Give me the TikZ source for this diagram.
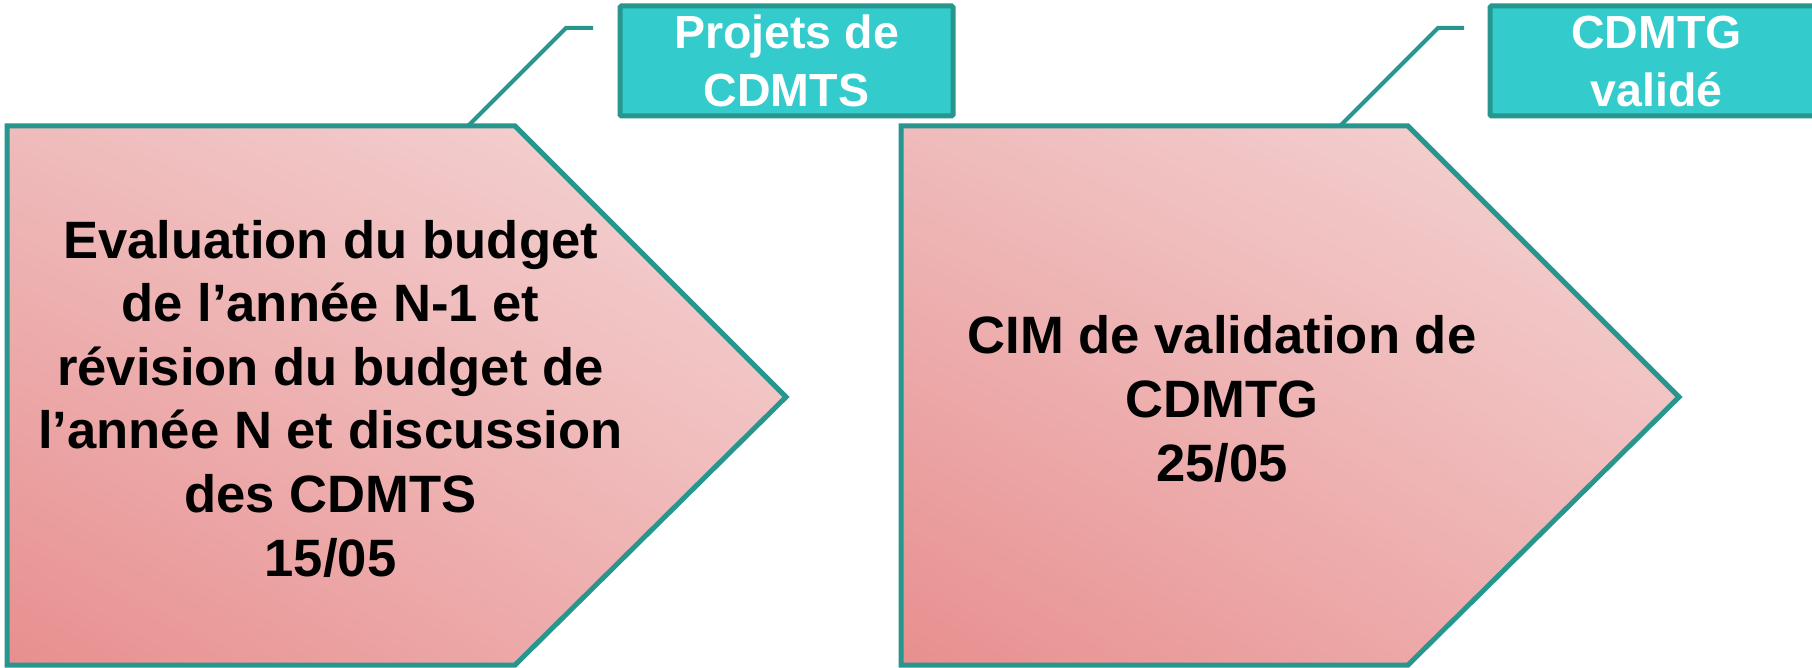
\documentclass[tikz,border=0pt]{standalone}
\usepackage{fontspec}
\setmainfont{Liberation Sans}
\usetikzlibrary{shadings}
\definecolor{tealline}{HTML}{27968F}
\definecolor{boxfill}{HTML}{33CBCB}
\definecolor{pinkLL}{HTML}{E88F8F}
\definecolor{pinkUL}{HTML}{EFBBBB}
\definecolor{pinkLR}{HTML}{EFB3B3}
\definecolor{pinkUR}{HTML}{F5D6D6}
\begin{document}
\begin{tikzpicture}[x=1pt,y=-1pt,
  pent/.style={draw=tealline, line width=5pt, line join=miter,
    lower left=pinkLL, upper left=pinkUL, lower right=pinkLR, upper right=pinkUR},
  leader/.style={draw=tealline, line width=4pt},
  callout/.style={draw=tealline, fill=boxfill, line width=5pt, rounded corners=1.5pt,
    minimum width=333pt, minimum height=110pt, inner sep=0pt, align=center,
    text=white, font=\bfseries\fontsize{46.5}{58}\selectfont},
  maintext/.style={inner sep=0pt, align=center, text=black,
    font=\bfseries\fontsize{52.6}{63.6}\selectfont}]
\useasboundingbox (0,0) rectangle (1812,668);
\clip (0,0) rectangle (1812,668);
\fill[white] (0,0) rectangle (1812,668);

% leader lines (drawn first, under the shapes)
\coordinate (l1a) at (468,126);
\coordinate (l1b) at (566,28);
\coordinate (l1c) at (593,28);
\coordinate (l2a) at (1340,126);
\coordinate (l2b) at (1438,28);
\coordinate (l2c) at (1464,28);
\draw[leader] (l1a) -- (l1b) -- (l1c);
\draw[leader] (l2a) -- (l2b) -- (l2c);

% pentagon arrows
\coordinate (a1nw) at (7,126);
\coordinate (a1ne) at (515,126);
\coordinate (a1tip) at (786,397);
\coordinate (a1se) at (515,665);
\coordinate (a1sw) at (7,665);
\shade[pent] (a1nw) -- (a1ne) -- (a1tip) -- (a1se) -- (a1sw) -- cycle;

\coordinate (a2nw) at (901,126);
\coordinate (a2ne) at (1408,126);
\coordinate (a2tip) at (1679,397);
\coordinate (a2se) at (1408,665);
\coordinate (a2sw) at (901,665);
\shade[pent] (a2nw) -- (a2ne) -- (a2tip) -- (a2se) -- (a2sw) -- cycle;

% texts (base anchor = baseline of the last line)
\node[maintext, anchor=base] (t1) at (330.5,576)
  {Evaluation du budget\\de l’année N-1 et\\révision du budget de\\l’année N et discussion\\des CDMTS\\15/05};
\node[maintext, anchor=base] (t2) at (1222,481)
  {CIM de validation de\\CDMTG\\25/05};

% callout boxes
\node[callout] (c1) at (786.5,61) {Projets de\\CDMTS};
\node[callout] (c2) at (1656.5,61) {CDMTG\\validé};
\end{tikzpicture}
\end{document}
